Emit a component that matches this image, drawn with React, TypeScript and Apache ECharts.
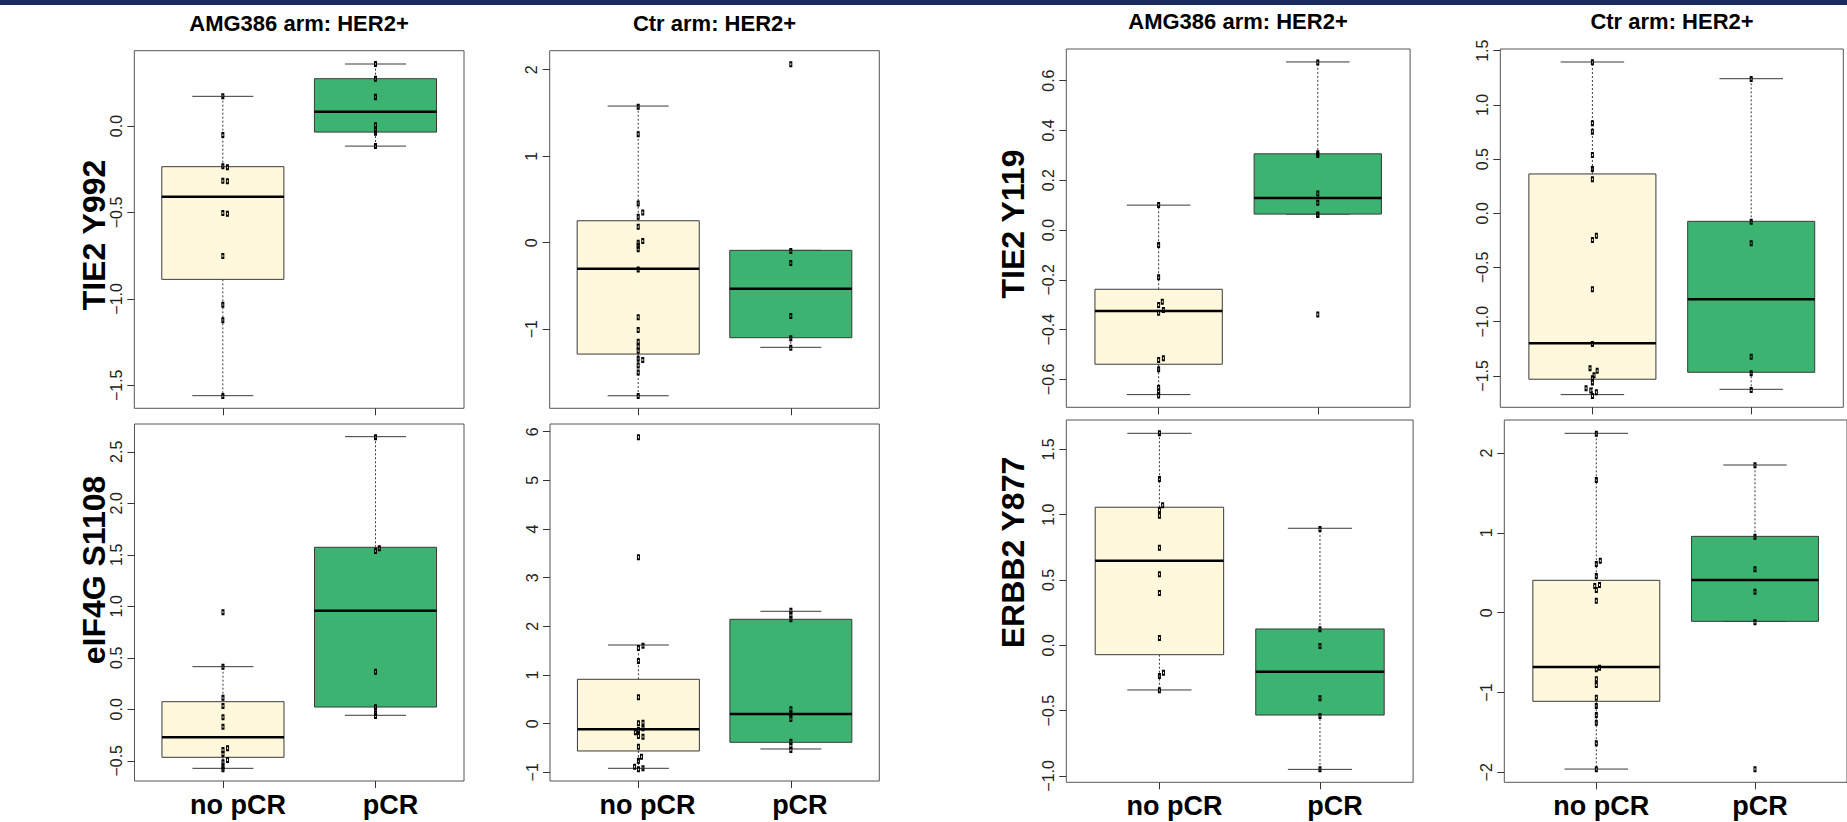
import React, { useEffect, useRef } from "react";
import * as echarts from "echarts";

// ---------- data ----------
const categories = ["no pCR", "pCR"];
const titles = ["AMG386 arm: HER2+", "Ctr arm: HER2+"];
const yLabels = ["TIE2 Y992", "eIF4G S1108", "TIE2 Y119", "ERBB2 Y877"];

// box stats: [lower whisker, Q1, median, Q3, upper whisker] for [no pCR, pCR]
const p1Box = [[-1.56, -0.887, -0.409, -0.235, 0.172], [-0.116, -0.035, 0.083, 0.274, 0.359]];
const p1NoPcr = [0.172, -0.052, -0.233, -0.238, -0.316, -0.32, -0.503, -0.507, -0.752, -1.034, -1.123, -1.562];
const p1NoPcrJit = [0, 0, 0, 0.03, 0, 0.03, 0, 0.03, 0, 0, 0, 0];
const p1Pcr = [0.359, 0.274, 0.17, 0.166, 0.005, -0.023, -0.039, -0.116];
const p1PcrJit = [0, 0, 0, 0, 0, 0, 0, 0];

const p2Box = [[-1.769, -1.287, -0.301, 0.254, 1.58], [-1.209, -1.098, -0.532, -0.088, -0.088]];
const p2NoPcr = [1.573, 1.253, 0.455, 0.35, 0.3, 0.185, 0.02, 0.0, -0.035, -0.075, -0.308, -0.862, -1.009, -1.144, -1.2, -1.25, -1.34, -1.355, -1.42, -1.5, -1.772];
const p2NoPcrJit = [0, 0, 0, 0.03, 0, 0, 0.03, 0, 0, 0, 0, 0, 0, 0, 0, 0, 0, 0.03, 0, 0, 0];
const p2Pcr = [2.062, -0.096, -0.235, -0.847, -1.105, -1.214];
const p2PcrJit = [0, 0, 0, 0, 0, 0];

const p3Box = [[-0.573, -0.466, -0.272, 0.074, 0.414], [-0.058, 0.022, 0.957, 1.573, 2.647]];
const p3NoPcr = [0.942, 0.414, 0.113, 0.032, -0.078, -0.169, -0.379, -0.395, -0.434, -0.492, -0.515, -0.557, -0.583];
const p3NoPcrJit = [0, 0, 0, 0, 0, 0, 0.03, 0, 0, 0.03, 0, 0, 0];
const p3Pcr = [2.641, 1.563, 1.537, 0.365, 0.019, -0.039, -0.065];
const p3PcrJit = [0, 0.025, 0, 0, 0, 0, 0];

const p4Box = [[-0.917, -0.561, -0.115, 0.912, 1.617], [-0.52, -0.383, 0.199, 2.145, 2.31]];
const p4NoPcr = [5.886, 3.42, 1.603, 1.556, 1.289, 0.543, 0.02, 0.007, -0.095, -0.13, -0.178, -0.253, -0.267, -0.472, -0.678, -0.76, -0.884, -0.917, -0.937];
const p4NoPcrJit = [0, 0, 0.03, 0, 0, 0, 0.03, 0, 0.03, 0, -0.02, 0, 0.03, 0, 0.02, 0, -0.025, 0.03, 0];
const p4Pcr = [2.322, 2.234, 2.145, 0.296, 0.199, 0.097, -0.37, -0.458, -0.54];
const p4PcrJit = [0, 0, 0, 0, 0, 0, 0, 0, 0];

const p5Box = [[-0.661, -0.539, -0.325, -0.238, 0.1], [0.064, 0.064, 0.129, 0.306, 0.675]];
const p5NoPcr = [0.1, -0.06, -0.19, -0.288, -0.301, -0.321, -0.332, -0.515, -0.522, -0.559, -0.633, -0.649, -0.665];
const p5NoPcrJit = [0, 0, 0, 0.023, 0, 0.03, 0, 0.03, 0, 0, 0, 0, 0];
const p5Pcr = [0.673, 0.308, 0.301, 0.147, 0.11, 0.062, 0.06, -0.339];
const p5PcrJit = [0, 0, 0, 0, 0, 0, 0, 0];

const p6Box = [[-1.673, -1.531, -1.199, 0.363, 1.396], [-1.624, -1.467, -0.793, -0.074, 1.242]];
const p6NoPcr = [1.393, 0.83, 0.753, 0.538, 0.409, 0.314, -0.206, -0.246, -0.701, -1.206, -1.43, -1.452, -1.495, -1.522, -1.562, -1.614, -1.636, -1.651, -1.685];
const p6NoPcrJit = [0, 0, 0, 0, 0, 0, 0.025, 0, 0, 0, -0.015, 0.03, 0.01, 0, 0, -0.04, -0.01, 0.025, 0];
const p6Pcr = [1.239, -0.077, -0.277, -1.323, -1.476, -1.63];
const p6PcrJit = [0, 0, 0, 0, 0, 0];

const p7Box = [[-0.342, -0.072, 0.648, 1.057, 1.623], [-0.95, -0.534, -0.202, 0.125, 0.896]];
const p7NoPcr = [1.623, 1.273, 1.072, 1.036, 0.992, 0.747, 0.544, 0.4, 0.056, -0.21, -0.235, -0.345];
const p7NoPcrJit = [0, 0, 0.02, 0, 0, 0, 0, 0, 0, 0.025, 0, 0];
const p7Pcr = [0.89, 0.122, -0.005, -0.406, -0.541, -0.95];
const p7PcrJit = [0, 0, 0, 0, 0, 0];

const p8Box = [[-1.959, -1.11, -0.68, 0.406, 2.248], [-0.108, -0.108, 0.41, 0.957, 1.851]];
const p8NoPcr = [2.243, 1.663, 0.652, 0.61, 0.46, 0.347, 0.335, 0.284, 0.15, -0.689, -0.709, -0.835, -0.906, -1.065, -1.169, -1.282, -1.378, -1.637, -1.962];
const p8NoPcrJit = [0, 0, 0.025, 0, 0, 0.02, -0.01, 0, 0, 0.02, 0, 0, 0, 0, 0, 0, 0, 0, 0];
const p8Pcr = [1.847, 0.952, 0.544, 0.263, -0.12, -1.962];
const p8PcrJit = [0, 0, 0, 0, 0, 0];

// axis ranges and tick values
const p1Range = [-1.633, 0.436];
const p2Range = [-1.914, 2.22];
const p3Range = [-0.696, 2.77];
const p4Range = [-1.178, 6.159];
const p5Range = [-0.712, 0.727];
const p6Range = [-1.79, 1.516];
const p7Range = [-1.049, 1.725];
const p8Range = [-2.125, 2.415];

const p1Ticks = [-1.5, -1.0, -0.5, 0.0];
const p2Ticks = [-1, 0, 1, 2];
const p3Ticks = [-0.5, 0.0, 0.5, 1.0, 1.5, 2.0, 2.5];
const p4Ticks = [-1, 0, 1, 2, 3, 4, 5, 6];
const p5Ticks = [-0.6, -0.4, -0.2, 0.0, 0.2, 0.4, 0.6];
const p6Ticks = [-1.5, -1.0, -0.5, 0.0, 0.5, 1.0, 1.5];
const p7Ticks = [-1.0, -0.5, 0.0, 0.5, 1.0, 1.5];
const p8Ticks = [-2, -1, 0, 1, 2];

// ---------- styles / layout ----------
const FONT = '"Liberation Sans", Arial, Helvetica, sans-serif';
const FILLS = ["#FFF8DC", "#3CB371"];

const panels = [
  { grid: { left: 134.3, top: 50.7, width: 329.7, height: 357.6 }, range: p1Range, ticks: p1Ticks, dec: 1, box: p1Box, pts: [[p1NoPcr, p1NoPcrJit], [p1Pcr, p1PcrJit]], bottom: false, pad: 0 },
  { grid: { left: 549.7, top: 50.7, width: 329.6, height: 357.6 }, range: p2Range, ticks: p2Ticks, dec: 0, box: p2Box, pts: [[p2NoPcr, p2NoPcrJit], [p2Pcr, p2PcrJit]], bottom: false, pad: 0 },
  { grid: { left: 134.5, top: 424, width: 329.5, height: 357 }, range: p3Range, ticks: p3Ticks, dec: 1, box: p3Box, pts: [[p3NoPcr, p3NoPcrJit], [p3Pcr, p3PcrJit]], bottom: true, pad: 30 },
  { grid: { left: 550, top: 424, width: 329.3, height: 357 }, range: p4Range, ticks: p4Ticks, dec: 0, box: p4Box, pts: [[p4NoPcr, p4NoPcrJit], [p4Pcr, p4PcrJit]], bottom: true, pad: 18 },
  { grid: { left: 1066.3, top: 49, width: 343.8, height: 358.3 }, range: p5Range, ticks: p5Ticks, dec: 1, box: p5Box, pts: [[p5NoPcr, p5NoPcrJit], [p5Pcr, p5PcrJit]], bottom: false, pad: 0 },
  { grid: { left: 1500.3, top: 49, width: 343, height: 358.3 }, range: p6Range, ticks: p6Ticks, dec: 1, box: p6Box, pts: [[p6NoPcr, p6NoPcrJit], [p6Pcr, p6PcrJit]], bottom: false, pad: 0 },
  { grid: { left: 1066.3, top: 420, width: 346.8, height: 362.3 }, range: p7Range, ticks: p7Ticks, dec: 1, box: p7Box, pts: [[p7NoPcr, p7NoPcrJit], [p7Pcr, p7PcrJit]], bottom: true, pad: 30 },
  { grid: { left: 1504.3, top: 420, width: 347, height: 362.3 }, range: p8Range, ticks: p8Ticks, dec: 0, box: p8Box, pts: [[p8NoPcr, p8NoPcrJit], [p8Pcr, p8PcrJit]], bottom: true, pad: 10 },
];

const titlePos = [
  { x: 299, y: 23, t: 0 },
  { x: 714.5, y: 23, t: 1 },
  { x: 1238, y: 21, t: 0 },
  { x: 1672, y: 21, t: 1 },
];
const yLabelPos = [
  { x: 94, y: 235, t: 0 },
  { x: 94, y: 570, t: 1 },
  { x: 1013, y: 224, t: 2 },
  { x: 1013, y: 552.5, t: 3 },
];

const fmt = (v: number, dec: number) => v.toFixed(dec).replace("-", "\u2212");

function renderBox(params: any, api: any) {
  const x = api.value(0);
  const lo = api.value(1), q1 = api.value(2), med = api.value(3), q3 = api.value(4), hi = api.value(5);
  const xc = api.coord([x, med])[0];
  const yLo = api.coord([x, lo])[1];
  const yQ1 = api.coord([x, q1])[1];
  const yMed = api.coord([x, med])[1];
  const yQ3 = api.coord([x, q3])[1];
  const yHi = api.coord([x, hi])[1];
  const halfBox = api.size([0.4, 0])[0];
  const halfCap = api.size([0.2, 0])[0];
  const fill = api.visual("color");
  const edge = "#3a3a3a";
  return {
    type: "group",
    children: [
      { type: "line", shape: { x1: xc, y1: yQ3, x2: xc, y2: yHi }, style: { stroke: edge, lineWidth: 1, lineDash: [2, 2] } },
      { type: "line", shape: { x1: xc, y1: yQ1, x2: xc, y2: yLo }, style: { stroke: edge, lineWidth: 1, lineDash: [2, 2] } },
      { type: "line", shape: { x1: xc - halfCap, y1: yHi, x2: xc + halfCap, y2: yHi }, style: { stroke: edge, lineWidth: 1 } },
      { type: "line", shape: { x1: xc - halfCap, y1: yLo, x2: xc + halfCap, y2: yLo }, style: { stroke: edge, lineWidth: 1 } },
      { type: "rect", shape: { x: xc - halfBox, y: yQ3, width: 2 * halfBox, height: yQ1 - yQ3 }, style: { fill, stroke: edge, lineWidth: 1 } },
      { type: "line", shape: { x1: xc - halfBox, y1: yMed, x2: xc + halfBox, y2: yMed }, style: { stroke: "#000", lineWidth: 2.5 } },
    ],
  };
}

function buildOption() {
  const grid: any[] = [];
  const xAxis: any[] = [];
  const yAxis: any[] = [];
  const series: any[] = [];
  panels.forEach((p, i) => {
    grid.push({ ...p.grid, show: true, borderColor: "#555", borderWidth: 1, backgroundColor: "transparent" });
    xAxis.push({
      type: "value",
      gridIndex: i,
      position: "bottom",
      min: -0.58,
      max: 1.58,
      axisLine: { show: false, onZero: false },
      splitLine: { show: false },
      axisTick: { show: true, length: 7, lineStyle: { color: "#333" }, customValues: [0, 1] },
      axisLabel: {
        show: p.bottom,
        customValues: [0, 1],
        formatter: (v: number) => categories[Math.round(v)],
        fontSize: 27,
        fontWeight: "bold",
        fontFamily: FONT,
        color: "#000",
        margin: 10,
        padding: [0, 0, 0, p.pad],
      },
    });
    yAxis.push({
      type: "value",
      gridIndex: i,
      position: "left",
      min: p.range[0],
      max: p.range[1],
      axisLine: { show: false, onZero: false },
      splitLine: { show: false },
      axisTick: { show: true, length: 7, lineStyle: { color: "#333" }, customValues: p.ticks },
      axisLabel: {
        show: true,
        rotate: 90,
        customValues: p.ticks,
        formatter: (v: number) => fmt(v, p.dec),
        fontSize: 16,
        fontFamily: FONT,
        color: "#222",
        margin: 10,
      },
    });
    series.push({
      type: "custom",
      xAxisIndex: i,
      yAxisIndex: i,
      renderItem: renderBox,
      clip: false,
      z: 2,
      encode: { x: 0, y: [1, 2, 3, 4, 5] },
      data: p.box.map((b, k) => ({ value: [k, ...b], itemStyle: { color: FILLS[k] } })),
    });
    const pts: number[][] = [];
    p.pts.forEach(([vals, jit], k) => {
      vals.forEach((v, j) => pts.push([k + jit[j], v]));
    });
    series.push({
      type: "scatter",
      xAxisIndex: i,
      yAxisIndex: i,
      z: 3,
      symbol: "rect",
      symbolSize: [2, 4],
      itemStyle: { color: "rgba(0,0,0,0)", borderColor: "#000", borderWidth: 1, opacity: 1 },
      data: pts,
    });
  });

  const graphic: any[] = [
    { type: "rect", shape: { x: 0, y: 0, width: 1847, height: 5 }, style: { fill: "#1b2a5e" } },
  ];
  titlePos.forEach((t) => {
    graphic.push({
      type: "text",
      x: t.x,
      y: t.y,
      style: { text: titles[t.t], fontSize: 22, fontWeight: "bold", fontFamily: FONT, fill: "#000", align: "center", verticalAlign: "middle" },
    });
  });
  yLabelPos.forEach((t) => {
    graphic.push({
      type: "text",
      x: t.x,
      y: t.y,
      rotation: Math.PI / 2,
      style: { text: yLabels[t.t], fontSize: 32, fontWeight: "bold", fontFamily: FONT, fill: "#000", align: "center", verticalAlign: "middle" },
    });
  });

  return { animation: false, backgroundColor: "#fff", grid, xAxis, yAxis, series, graphic };
}

export default function App() {
  const ref = useRef<HTMLDivElement>(null);
  useEffect(() => {
    if (!ref.current) return;
    const chart = echarts.init(ref.current, undefined, { renderer: "svg" });
    chart.setOption(buildOption() as any);
    return () => chart.dispose();
  }, []);
  return <div ref={ref} style={{ position: "fixed", left: 0, top: 0, width: 1847, height: 822, background: "#fff" }} />;
}
